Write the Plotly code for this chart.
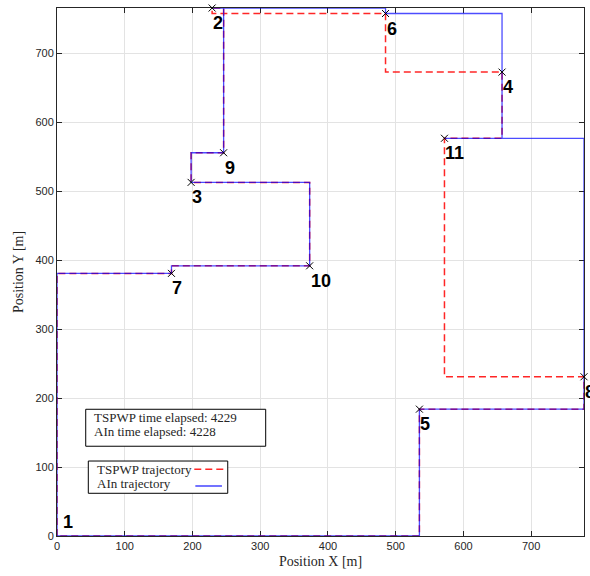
import plotly.graph_objects as go

# ---- data ----
wp_x = [0, 229, 198, 657, 535, 485, 169, 778, 246, 373, 572]
wp_y = [0, 766, 513, 673, 184, 758, 381, 231, 556, 392, 577]
wp_labels = ["1", "2", "3", "4", "5", "6", "7", "8", "9", "10", "11"]
visit_order = [1, 7, 10, 3, 9, 2, 6, 4, 11, 8, 5, 1]
# for each leg: "v" = move along Y first, "h" = move along X first
tspwp_first = ["v", "v", "v", "v", "v", "v", "v", "v", "v", "v", "v"]
ain_first = ["v", "v", "v", "v", "v", "h", "h", "v", "h", "v", "v"]
x_ticks = [0, 100, 200, 300, 400, 500, 600, 700]
y_ticks = [0, 100, 200, 300, 400, 500, 600, 700]
tspwp_time = 4229
ain_time = 4228


def route(order, first):
    xs = [wp_x[order[0] - 1]]
    ys = [wp_y[order[0] - 1]]
    for k in range(len(order) - 1):
        a, b = order[k] - 1, order[k + 1] - 1
        if first[k] == "v":
            xs.append(wp_x[a]); ys.append(wp_y[b])
        else:
            xs.append(wp_x[b]); ys.append(wp_y[a])
        xs.append(wp_x[b]); ys.append(wp_y[b])
    return xs, ys


rx, ry = route(visit_order, tspwp_first)
bx, by = route(visit_order, ain_first)

fig = go.Figure()
fig.add_trace(go.Scatter(x=rx, y=ry, mode="lines", name="TSPWP trajectory",
                         line=dict(color="rgba(255,0,0,0.85)", width=1.5, dash="7px,4px"),
                         cliponaxis=False, showlegend=False))
fig.add_trace(go.Scatter(x=bx, y=by, mode="lines", name="AIn trajectory",
                         line=dict(color="rgba(0,0,255,0.7)", width=1.3),
                         cliponaxis=False, showlegend=False))
# start point (1) is not marked
fig.add_trace(go.Scatter(x=wp_x[1:], y=wp_y[1:], mode="markers",
                         marker=dict(symbol="x-thin", size=7, line=dict(color="black", width=1)),
                         cliponaxis=False, showlegend=False))

serif = "Liberation Serif"
sans = "Liberation Sans"

for i in range(len(wp_x)):
    if i == 0:
        fig.add_annotation(x=wp_x[i], y=wp_y[i], text="<b>%s</b>" % wp_labels[i],
                           showarrow=False, xanchor="left", yanchor="bottom",
                           xshift=4, yshift=2,
                           font=dict(family=sans, size=18, color="black"))
    else:
        fig.add_annotation(x=wp_x[i], y=wp_y[i], text="<b>%s</b>" % wp_labels[i],
                           showarrow=False, xanchor="left", yanchor="top",
                           xshift=-1, yshift=-3,
                           font=dict(family=sans, size=18, color="black"))

# time box
fig.add_shape(type="rect", xref="paper", yref="paper", x0=0.0545, x1=0.396, y0=0.170, y1=0.240,
              line=dict(color="black", width=1), fillcolor="white", layer="above")
fig.add_annotation(xref="paper", yref="paper", x=0.0658, y=0.2248, xanchor="left", yanchor="middle",
                   text="TSPWP time elapsed: %d" % tspwp_time, showarrow=False,
                   font=dict(family=serif, size=13, color="#262626"))
fig.add_annotation(xref="paper", yref="paper", x=0.0658, y=0.1975, xanchor="left", yanchor="middle",
                   text="AIn time elapsed: %d" % ain_time, showarrow=False,
                   font=dict(family=serif, size=13, color="#262626"))

# legend box
fig.add_shape(type="rect", xref="paper", yref="paper", x0=0.0594, x1=0.324, y0=0.0809, y1=0.142,
              line=dict(color="black", width=1), fillcolor="white", layer="above")
fig.add_annotation(xref="paper", yref="paper", x=0.0721, y=0.126, xanchor="left", yanchor="middle",
                   text="TSPWP trajectory", showarrow=False,
                   font=dict(family=serif, size=13, color="#262626"))
fig.add_annotation(xref="paper", yref="paper", x=0.0721, y=0.0998, xanchor="left", yanchor="middle",
                   text="AIn trajectory", showarrow=False,
                   font=dict(family=serif, size=13, color="#262626"))
fig.add_shape(type="line", xref="paper", yref="paper", x0=0.2605, x1=0.317, y0=0.1263, y1=0.1263,
              line=dict(color="rgba(255,0,0,0.85)", width=1.5, dash="7px,4px"), layer="above")
fig.add_shape(type="line", xref="paper", yref="paper", x0=0.2625, x1=0.313, y0=0.0947, y1=0.0947,
              line=dict(color="rgba(0,0,255,0.85)", width=1.3), layer="above")

axis_common = dict(showgrid=True, gridcolor="#e3e3e3", gridwidth=1, zeroline=False,
                   showline=True, linecolor="#262626", linewidth=1, mirror="ticks",
                   ticks="inside", ticklen=5, tickcolor="#262626", layer="below traces",
                   tickfont=dict(family=sans, size=11, color="#262626"))

fig.update_layout(
    width=590, height=576,
    margin=dict(l=57, r=6, t=8, b=40),
    plot_bgcolor="white", paper_bgcolor="white",
    xaxis=dict(range=[0, max(wp_x)], tickvals=x_ticks,
               title=dict(text="Position X [m]", standoff=4,
                          font=dict(family=serif, size=14, color="#262626")),
               **axis_common),
    yaxis=dict(range=[0, max(wp_y)], tickvals=y_ticks,
               title=dict(text="Position Y [m]", standoff=8,
                          font=dict(family=serif, size=14, color="#262626")),
               **axis_common),
)

fig.write_html("out.html")
